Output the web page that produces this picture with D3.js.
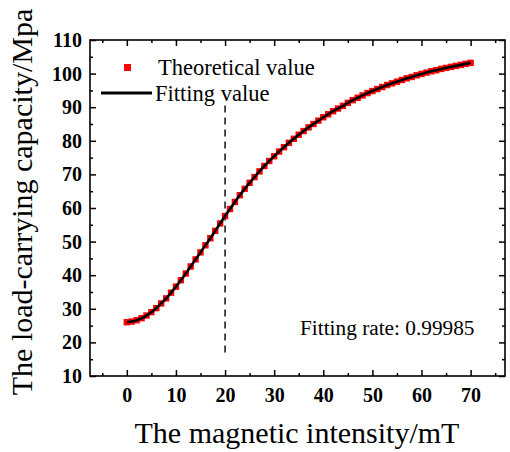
<!doctype html>
<html lang="en">
<head>
<meta charset="utf-8">
<title>Load-carrying capacity vs magnetic intensity</title>
<script src="https://cdn.jsdelivr.net/npm/d3@7"></script>
<style>
  body { margin: 0; background: #fff; }
  svg text { font-family: "Liberation Serif", "Times New Roman", serif; }
</style>
</head>
<body>
<svg id="chart" width="510" height="452"></svg>
<script>
// magnetic intensity (mT)
var intensity = d3.range(0, 71);
// theoretical load-carrying capacity (MPa)
var theoretical = [
  26.0, 26.2, 26.6, 27.2, 28.0, 29.0, 30.2, 31.6, 33.1, 34.8,
  36.6, 38.5, 40.5, 42.6, 44.7, 46.8, 48.9, 51.0, 53.2, 55.4,
  57.6, 59.7, 61.8, 63.8, 65.7, 67.5, 69.2, 70.9, 72.5, 74.0,
  75.4, 76.8, 78.1, 79.4, 80.6, 81.8, 82.9, 84.0, 85.0, 86.0,
  87.0, 87.9, 88.8, 89.6, 90.4, 91.3, 92.1, 92.8, 93.5, 94.2,
  94.8, 95.4, 96.0, 96.6, 97.1, 97.6, 98.1, 98.6, 99.0, 99.5,
  99.9, 100.3, 100.7, 101.0, 101.4, 101.7, 102.0, 102.3, 102.6, 102.9,
  103.2
];
// fitted curve, same points
var fitted = theoretical.slice();
var xTicks = [0, 10, 20, 30, 40, 50, 60, 70];
var xMinor = [-5, 5, 15, 25, 35, 45, 55, 65, 75];
var yTicks = [10, 20, 30, 40, 50, 60, 70, 80, 90, 100, 110];
var yMinor = [15, 25, 35, 45, 55, 65, 75, 85, 95, 105];
var markLine = 20;
var legendLabels = ["Theoretical value", "Fitting value"];
var rateLabel = "Fitting rate: 0.99985";

var svg = d3.select("#chart");
var L = 90, R = 505, T = 40, B = 376;

xScale = d3.scaleLinear().domain([-7.5, 77]).range([L, R]);
yScale = d3.scaleLinear().domain([10, 110]).range([B, T]);

// major ticks inward on all four sides
function axisGroup(axis, tx, ty) {
  var g = svg.append("g").attr("transform", "translate(" + tx + "," + ty + ")").call(axis);
  g.select(".domain").remove();
  g.selectAll(".tick line").attr("stroke", "#000").attr("stroke-width", 1.5);
  return g;
}

var xb = axisGroup(d3.axisBottom(xScale).tickValues(xTicks).tickSize(-6).tickPadding(12), 0, B);
xb.selectAll("text").attr("font-size", 20).attr("font-weight", "bold").attr("fill", "#000")
  .attr("dy", "0.71em");
axisGroup(d3.axisBottom(xScale).tickValues(xMinor).tickSize(-3).tickFormat(""), 0, B);
axisGroup(d3.axisTop(xScale).tickValues(xTicks).tickSize(-6).tickFormat(""), 0, T);
axisGroup(d3.axisTop(xScale).tickValues(xMinor).tickSize(-3).tickFormat(""), 0, T);

var yl = axisGroup(d3.axisLeft(yScale).tickValues(yTicks).tickSize(-6).tickPadding(8), L, 0);
yl.selectAll("text").attr("font-size", 20).attr("font-weight", "bold").attr("fill", "#000");
axisGroup(d3.axisLeft(yScale).tickValues(yMinor).tickSize(-3).tickFormat(""), L, 0);
axisGroup(d3.axisRight(yScale).tickValues(yTicks).tickSize(-6).tickFormat(""), R, 0);
axisGroup(d3.axisRight(yScale).tickValues(yMinor).tickSize(-3).tickFormat(""), R, 0);

// frame
svg.append("rect")
  .attr("x", L).attr("y", T).attr("width", R - L).attr("height", B - T)
  .attr("fill", "none").attr("stroke", "#000").attr("stroke-width", 1.6);

// dashed reference line at 20 mT
svg.append("line")
  .attr("x1", xScale(markLine)).attr("x2", xScale(markLine))
  .attr("y1", yScale(90.5)).attr("y2", yScale(15.5))
  .attr("stroke", "#000").attr("stroke-width", 1.4)
  .attr("stroke-dasharray", "7,5");

// theoretical points
svg.selectAll("rect.theory")
  .data(intensity)
  .enter()
  .append("rect")
  .attr("class", "theory")
  .attr("x", function(d) { return xScale(d) - 3.2; })
  .attr("y", function(d, i) { return yScale(theoretical[i]) - 3.2; })
  .attr("width", 6.4).attr("height", 6.4)
  .style("fill", "#f00");

// fitting line
var fitLine = d3.line().curve(d3.curveMonotoneX)
  .x(function(d) { return xScale(d); })
  .y(function(d, i) { return yScale(fitted[i]); });

svg.append("path")
  .attr("d", fitLine(intensity))
  .attr("fill", "none")
  .attr("stroke", "#000")
  .attr("stroke-width", 2.6);

// legend
svg.append("rect").attr("x", 124).attr("y", 64).attr("width", 7).attr("height", 7).style("fill", "#f00");
svg.append("text").attr("x", 158).attr("y", 75).attr("font-size", 22.5).text(legendLabels[0]);
svg.append("line").attr("x1", 101).attr("x2", 152).attr("y1", 93).attr("y2", 93)
  .attr("stroke", "#000").attr("stroke-width", 3);
svg.append("text").attr("x", 155).attr("y", 101).attr("font-size", 22.5).text(legendLabels[1]);

// fitting rate note
svg.append("text").attr("x", 300).attr("y", 335).attr("font-size", 21.3).text(rateLabel);

// axis titles
svg.append("text")
  .attr("x", 297).attr("y", 443)
  .attr("text-anchor", "middle").attr("font-size", 30)
  .text("The magnetic intensity/mT");

svg.append("text")
  .attr("transform", "translate(32,202) rotate(-90)")
  .attr("text-anchor", "middle").attr("font-size", 30)
  .text("The load-carrying capacity/Mpa");
</script>
</body>
</html>
